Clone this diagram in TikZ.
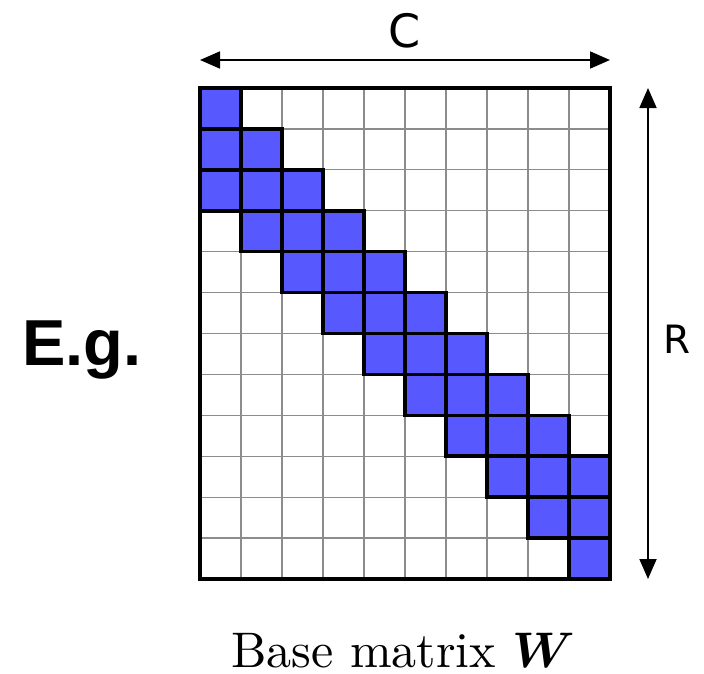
\RequirePackage{fix-cm}
\documentclass[tikz,border=0pt]{standalone}
\usepackage{amsmath}
\usepackage{fontspec}
\usetikzlibrary{arrows.meta}
\newfontfamily\dejavu{DejaVu Sans}
\newfontfamily\arialf{Liberation Sans}
\newfontfamily\lmten{lmroman10-regular}[Extension=.otf]
\definecolor{cellblue}{RGB}{88,88,255}
\tikzset{
  gridline/.style={draw=black!45, line width=1.3pt},
  cellbox/.style={fill=cellblue, draw=black, line width=3.6pt},
  frame/.style={draw=black, line width=3.6pt},
  dimarrow/.style={draw=black, line width=1.8pt, {Triangle[width=17pt,length=20pt]}-{Triangle[width=17pt,length=20pt]}, shorten <=0pt, shorten >=0pt},
  lbl/.style={inner sep=0pt, text=black}
}
\begin{document}
\begin{tikzpicture}[x=1pt,y=-1pt]
\useasboundingbox (0,0) rectangle (704,673);
\def\cw{41}
\def\ch{40.917}
% grid lines
\foreach \i in {1,...,9} \draw[gridline] ({200+\i*\cw},88) -- ({200+\i*\cw},579);
\foreach \j in {1,...,11} \draw[gridline] (200,{88+\j*\ch}) -- (610,{88+\j*\ch});
% blue cells
\foreach \r/\c in {0/0,1/0,1/1,2/0,2/1,2/2,3/1,3/2,3/3,4/2,4/3,4/4,5/3,5/4,5/5,6/4,6/5,6/6,7/5,7/6,7/7,8/6,8/7,8/8,9/7,9/8,9/9,10/8,10/9,11/9}
  \draw[cellbox] ({200+\c*\cw},{88+\r*\ch}) rectangle ++(\cw,\ch);
% frame
\draw[frame] (200,88) rectangle (610,579);
% dimension arrows
\coordinate (cl) at (200,60);
\coordinate (cr) at (610,60);
\coordinate (rt) at (648,88);
\coordinate (rb) at (648,579);
\draw[dimarrow] (cl) -- (cr);
\draw[dimarrow] (rt) -- (rb);
\node[lbl, anchor=base] (clab) at (405,47) {\dejavu\fontsize{46}{46}\selectfont C};
\node[lbl, anchor=base] (rlab) at (677,353) {\dejavu\fontsize{39}{39}\selectfont R};
\node[lbl, anchor=base] (eg) at (82,365) {\arialf\bfseries\fontsize{65}{65}\selectfont E.g.};
\node[lbl, anchor=base west] (cap) at (231,667) {\fontsize{50}{50}\selectfont\lmten Base matrix $\boldsymbol{W}$};
\end{tikzpicture}
\end{document}
